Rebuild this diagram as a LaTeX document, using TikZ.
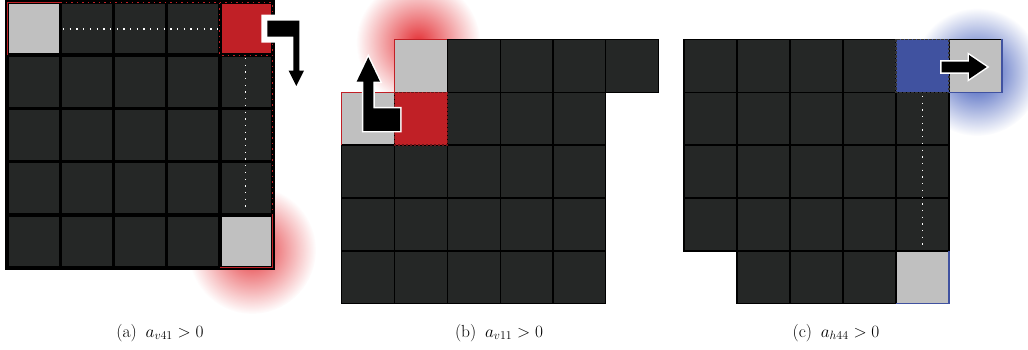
\documentclass[tikz,border=0pt]{standalone}
\usetikzlibrary{fadings}
\definecolor{cellc}{RGB}{37,39,38}
\definecolor{grayc}{RGB}{192,192,192}
\definecolor{redc}{RGB}{192,32,38}
\definecolor{darkred}{RGB}{110,20,22}
\definecolor{bluec}{RGB}{64,82,160}
\definecolor{rglow}{RGB}{228,50,55}
\definecolor{bglow}{RGB}{45,75,180}
\tikzfading[name=glowfade, inner color=transparent!0, outer color=transparent!100]
\tikzset{
  glowr/.style={fill=rglow, path fading=glowfade},
  glowb/.style={fill=bglow, path fading=glowfade},
  gridA/.style={draw=black, line width=3.4pt, line cap=rect},
  cellB/.style={fill=cellc, draw=black, line width=1.2pt},
  grayB/.style={fill=grayc, draw=black, line width=1.2pt},
  pathdot/.style={draw=white, line width=1.3pt, dash pattern=on 1.3pt off 5.4pt},
  reddot/.style={draw=redc, line width=1.2pt, dash pattern=on 1.5pt off 4pt},
  redline/.style={draw=redc, line width=1.3pt},
  blueline/.style={draw=bluec, line width=1.3pt},
  arrowfill/.style={fill=black},
  captext/.style={font=\fontsize{17.5}{20}\selectfont, inner sep=0pt}
}
\begin{document}
\begin{tikzpicture}[x=1pt,y=-1pt]
\useasboundingbox (0,0) rectangle (1028,350);
% ---------- glows ----------
\fill[glowr] (252,250) circle (64);
\fill[glowr] (418,42) circle (62);
\fill[glowb] (977,72) circle (64);

% ---------- panel (a) ----------
\fill[cellc] (7,2) rectangle (273,268);
\fill[grayc] (7,2) rectangle ++(53.2,53.2);
\fill[redc] (219.8,2) rectangle ++(53.2,53.2);
\fill[grayc] (219.8,214.8) rectangle ++(53.2,53.2);
\foreach \k in {0,...,5} {
  \draw[gridA] (7+53.2*\k,2) -- (7+53.2*\k,268);
  \draw[gridA] (7,2+53.2*\k) -- (273,2+53.2*\k);
}
\draw[redline] (7.2,55.2) -- (7.2,2.6) -- (60.2,2.6);
\draw[redline] (219.8,267.4) -- (272.2,267.4) -- (272.2,214.8);
\draw[reddot] (60.2,2.6) -- (272.2,2.6) -- (272.2,214.8);
\draw[reddot] (219.8,2.6) -- (219.8,55.2) -- (272.2,55.2);
\draw[pathdot] (63,29) -- (218,29);
\draw[pathdot] (245.5,58) -- (245.5,212);
\path[preaction={draw=white, line width=12pt}, arrowfill]
  (267.3,20.7) -- (299.3,20.7) -- (299.3,70.7) -- (304,70.7) -- (296.3,86)
  -- (288.6,70.7) -- (293.3,70.7) -- (293.3,36.7) -- (267.3,36.7) -- cycle;

% ---------- panel (b) ----------
\foreach \c/\r in {2/0,3/0,4/0,5/0, 2/1,3/1,4/1,
  0/2,1/2,2/2,3/2,4/2, 0/3,1/3,2/3,3/3,4/3, 0/4,1/4,2/4,3/4,4/4}
  \filldraw[cellB] (341.7+52.8*\c,39.3+52.9*\r) rectangle ++(52.8,52.9);
\filldraw[grayB] (394.5,39.3) rectangle ++(52.8,52.9);
\filldraw[grayB] (341.7,92.2) rectangle ++(52.8,52.9);
\fill[redc] (394.5,92.2) rectangle ++(52.8,52.9);
\draw[draw=darkred, line width=1.2pt, dash pattern=on 2.5pt off 1.5pt]
  (394.5,92.2) rectangle ++(52.8,52.9);
\draw[redline] (394.5,92.2) -- (394.5,39.3) -- (447.3,39.3);
\draw[redline] (341.7,145.1) -- (341.7,92.2) -- (394.5,92.2);
\path[preaction={draw=white, line width=3pt}, arrowfill]
  (368.3,57.3) -- (380,81.7) -- (373.3,81.7) -- (373.3,108.3) -- (400,108.3)
  -- (400,131) -- (363.3,131) -- (363.3,81.7) -- (356.6,81.7) -- cycle;

% ---------- panel (c) ----------
\foreach \c/\r in {0/0,1/0,2/0,3/0, 0/1,1/1,2/1,3/1,4/1,
  0/2,1/2,2/2,3/2,4/2, 0/3,1/3,2/3,3/3,4/3, 1/4,2/4,3/4}
  \filldraw[cellB] (684+53*\c,39.3+52.9*\r) rectangle ++(53,52.9);
\filldraw[grayB] (949,39.3) rectangle ++(53,52.9);
\filldraw[grayB] (896,250.9) rectangle ++(53,52.9);
\fill[bluec] (896,39.3) rectangle ++(53,52.9);
\draw[draw=black!80, line width=1.2pt, dash pattern=on 2.5pt off 1.5pt]
  (896,39.3) rectangle ++(53,52.9);
\draw[blueline] (949,92.2) -- (1002,92.2) -- (1002,39.3);
\draw[blueline] (896,303.8) -- (949,303.8) -- (949,250.9);
\draw[pathdot] (922.5,96) -- (922.5,248);
\path[preaction={draw=white, line width=3pt}, arrowfill]
  (941.7,61.7) -- (969,61.7) -- (969,55) -- (986.7,67) -- (969,79)
  -- (969,72.3) -- (941.7,72.3) -- cycle;

% ---------- captions ----------
\node[captext] (capa) at (160,333) {(a)\hspace{0.5em}$a_{v41}>0$};
\node[captext] (capb) at (499,333) {(b)\hspace{0.5em}$a_{v11}>0$};
\node[captext] (capc) at (836,333) {(c)\hspace{0.5em}$a_{h44}>0$};
\end{tikzpicture}
\end{document}
